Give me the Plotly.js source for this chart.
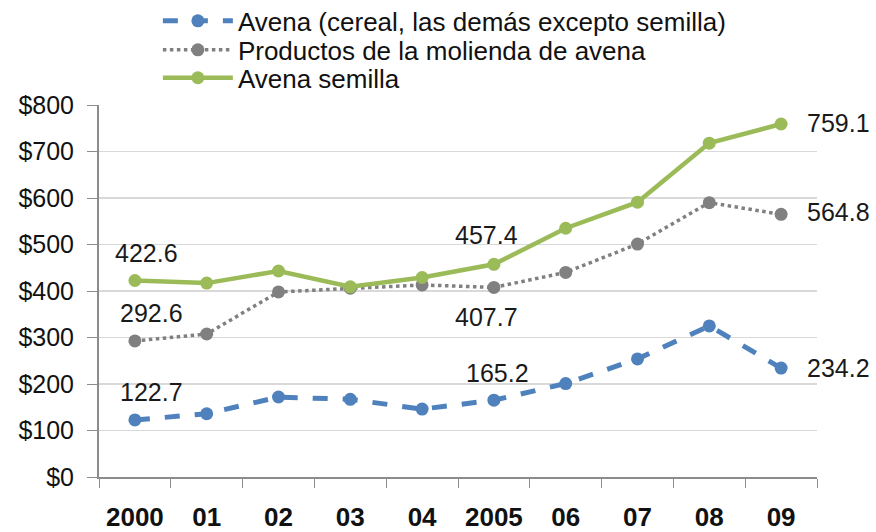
<!DOCTYPE html>
<html>
<head>
<meta charset="utf-8">
<script src="https://cdn.plot.ly/plotly-3.0.1.min.js"></script>
<style>html,body{margin:0;padding:0;background:#fff;}#chart{width:876px;height:532px;}</style>
</head>
<body>
<div id="chart"></div>
<script>
const years = ["2000","01","02","03","04","2005","06","07","08","09"];
const avenaCereal = [122.7, 136, 172, 167, 146, 165.2, 201, 254, 325, 234.2];
const productosMolienda = [292.6, 307.5, 398, 406, 413, 407.7, 440, 501, 590, 564.8];
const avenaSemilla = [422.6, 417, 443, 409, 429, 457.4, 535, 591, 718, 759.1];
const seriesNames = ["Avena (cereal, las demás excepto semilla)", "Productos de la molienda de avena", "Avena semilla"];

const font = "Liberation Sans, Arial, sans-serif";

const traces = [
  {x: years, y: avenaCereal, name: seriesNames[0], type: "scatter", mode: "lines+markers", legend: "legend",
   line: {color: "#4F81BD", width: 5, dash: "dash"}, marker: {color: "#4F81BD", size: 13}},
  {x: years, y: productosMolienda, name: seriesNames[1], type: "scatter", mode: "lines+markers", legend: "legend2",
   line: {color: "#808080", width: 3.5, dash: "dot"}, marker: {color: "#808080", size: 13}},
  {x: years, y: avenaSemilla, name: seriesNames[2], type: "scatter", mode: "lines+markers", legend: "legend3",
   line: {color: "#9BBB59", width: 4.5}, marker: {color: "#9BBB59", size: 13}}
];

function lab(series, i, xs, ys) {
  return {x: i, y: series[i], xref: "x", yref: "y", text: series[i].toFixed(1),
    showarrow: false, xshift: xs, yshift: ys, font: {family: font, size: 25, color: "#1a1a1a"}};
}

const annotations = [
  lab(avenaSemilla, 0, 12, 27), lab(productosMolienda, 0, 17, 28), lab(avenaCereal, 0, 17, 28),
  lab(avenaSemilla, 5, -7, 29), lab(productosMolienda, 5, -7, -30), lab(avenaCereal, 5, 4, 27),
  lab(avenaSemilla, 9, 57, 1), lab(productosMolienda, 9, 57, 2), lab(avenaCereal, 9, 57, 0)
];

function leg(y) {
  return {x: 0.082, y: y, xanchor: "left", yanchor: "middle", bgcolor: "rgba(0,0,0,0)",
    font: {family: font, size: 26, color: "#111"}, itemwidth: 70, tracegroupgap: 0};
}

const layout = {
  width: 876, height: 532,
  margin: {l: 99, r: 59, t: 105, b: 55, autoexpand: false},
  paper_bgcolor: "#fff", plot_bgcolor: "#fff",
  font: {family: font, color: "#111"},
  showlegend: true,
  legend: leg(1.226),
  legend2: leg(1.148),
  legend3: leg(1.073),
  xaxis: {type: "category", tickson: "boundaries", ticks: "outside", ticklen: 9, tickcolor: "#8c8c8c",
    showline: true, linecolor: "#8c8c8c", linewidth: 2, showgrid: false, zeroline: false,
    ticklabelstandoff: 16,
    tickfont: {family: font, size: 26, color: "#111", weight: "bold"}, range: [-0.5, 9.5]},
  yaxis: {range: [0, 800], dtick: 100, tickprefix: "$", ticks: "outside", ticklen: 10, tickcolor: "#8c8c8c",
    showline: true, linecolor: "#8c8c8c", linewidth: 2, gridcolor: "#d9d9d9", gridwidth: 1.5, zeroline: false,
    ticklabelstandoff: 8,
    tickfont: {family: font, size: 25, color: "#111"}},
  annotations: annotations
};

Plotly.newPlot("chart", traces, layout, {displayModeBar: false, staticPlot: true});
</script>
</body>
</html>
